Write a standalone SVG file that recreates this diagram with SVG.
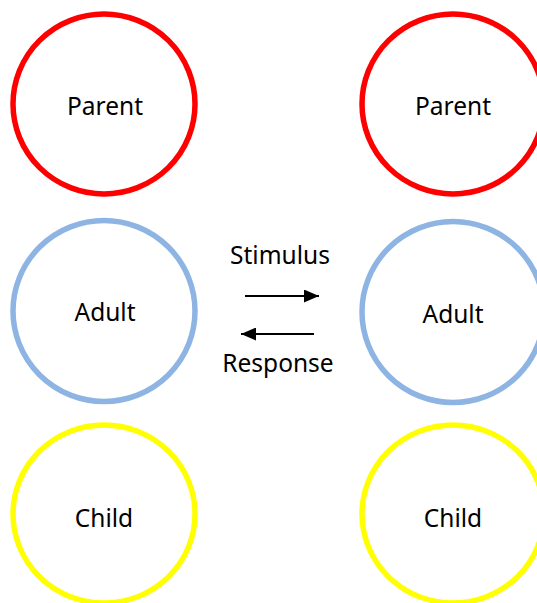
<svg xmlns="http://www.w3.org/2000/svg" width="537" height="603" viewBox="0 0 537 603">
  <style>
    .ring { fill: none; stroke-width: 5.5; }
    .parent { stroke: #FF0000; }
    .adult { stroke: #8DB4E2; }
    .child { stroke: #FFFF00; }
    .label { font-family: "Noto Sans", "Open Sans", sans-serif; font-size: 24.5px; fill: #000; text-anchor: middle; }
    .link { stroke: #000; stroke-width: 2; fill: none; }
  </style>
  <defs>
    <marker id="head" viewBox="0 0 15 13" refX="15" refY="6.5" markerWidth="15" markerHeight="13" markerUnits="userSpaceOnUse" orient="auto">
      <path d="M0,0 L15,6.5 L0,13 Z" fill="#000"/>
    </marker>
  </defs>
  <rect width="537" height="603" fill="#fff"/>

  <!-- left column -->
  <g id="parent-left">
    <ellipse class="ring parent" cx="104" cy="104" rx="91" ry="90"/>
    <text class="label" x="105" y="115">Parent</text>
  </g>
  <g id="adult-left">
    <ellipse class="ring adult" cx="104" cy="311" rx="91" ry="90.5"/>
    <text class="label" x="105" y="321">Adult</text>
  </g>
  <g id="child-left">
    <ellipse class="ring child" cx="104" cy="514" rx="91" ry="89"/>
    <text class="label" x="104" y="527">Child</text>
  </g>

  <!-- right column -->
  <g id="parent-right">
    <ellipse class="ring parent" cx="453" cy="104" rx="91" ry="90"/>
    <text class="label" x="453" y="115">Parent</text>
  </g>
  <g id="adult-right">
    <ellipse class="ring adult" cx="453" cy="312" rx="91" ry="90.5"/>
    <text class="label" x="453" y="323">Adult</text>
  </g>
  <g id="child-right">
    <ellipse class="ring child" cx="453" cy="514" rx="91" ry="89"/>
    <text class="label" x="453" y="527">Child</text>
  </g>

  <!-- transaction arrows -->
  <g id="connectors">
    <line class="link" x1="245" y1="296" x2="319" y2="296" marker-end="url(#head)"/>
    <line class="link" x1="314" y1="334" x2="241" y2="334" marker-end="url(#head)"/>
    <text class="label" x="280" y="264">Stimulus</text>
    <text class="label" x="278" y="372">Response</text>
  </g>
</svg>
